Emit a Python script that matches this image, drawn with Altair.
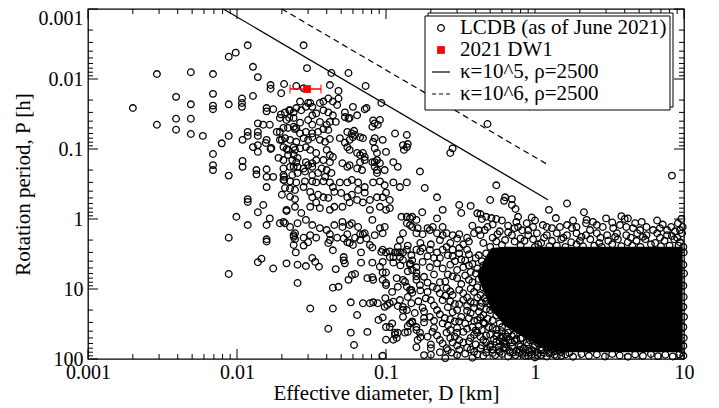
import altair as alt
import pandas as pd

# ---------------- data (D in km, P in hours) ----------------
lcdb_sparse = [
    (0.002, 0.026), (0.0029, 0.0085), (0.0029, 0.045), (0.0039, 0.018), (0.0039, 0.037), (0.0039, 0.053),
    (0.0049, 0.008), (0.0049, 0.023), (0.0049, 0.037), (0.0049, 0.061), (0.0059, 0.065),
    (0.0069, 0.0085), (0.0069, 0.0163), (0.0069, 0.024), (0.0069, 0.027), (0.0069, 0.118), (0.0069, 0.17), (0.0069, 0.2),
    (0.0079, 0.083), (0.0088, 0.0048), (0.0088, 0.023), (0.0088, 0.065), (0.0088, 0.24), (0.0088, 1.85), (0.0088, 6.1),
    (0.0098, 0.0042), (0.0099, 0.93),
    (0.0118, 0.0033), (0.0128, 0.0067), (0.0138, 0.0094),
    (0.0108, 0.019), (0.0108, 0.022), (0.0108, 0.025), (0.0128, 0.0175),
    (0.0158, 0.026), (0.0158, 0.029), (0.0175, 0.027), (0.0168, 0.0122), (0.0168, 0.0138),
    (0.0207, 0.0118), (0.0198, 0.016), (0.025, 0.0126), (0.028, 0.0135),
    (0.028, 0.0033), (0.0295, 0.007), (0.043, 0.0082), (0.056, 0.0082), (0.042, 0.0122),
    (0.048, 0.0148), (0.048, 0.019), (0.073, 0.0126), (0.093, 0.022), (0.48, 0.044), (8.3, 0.24),
]

lcdb_left_cloud = [
    (0.0118, 0.057), (0.0118, 0.065), (0.0138, 0.043), (0.0138, 0.057), (0.0138, 0.065), (0.0138, 0.088),
    (0.0138, 0.11), (0.0128, 0.094), (0.015, 0.045), (0.0166, 0.045), (0.0194, 0.057), (0.0194, 0.074),
    (0.0158, 0.074), (0.0168, 0.1), (0.019, 0.134), (0.0205, 0.094), (0.0215, 0.1), (0.022, 0.122),
    (0.024, 0.122), (0.024, 0.18), (0.0135, 0.2), (0.0135, 0.23), (0.0158, 0.195), (0.0158, 0.25),
    (0.0175, 0.25), (0.0207, 0.277), (0.0227, 0.37), (0.02, 0.45), (0.0227, 0.48), (0.0245, 0.52),
    (0.0158, 0.35), (0.0118, 0.52), (0.0118, 0.57), (0.015, 0.63), (0.0138, 0.8), (0.0118, 1.22),
    (0.0158, 1.22), (0.0166, 0.98), (0.0194, 1.15), (0.021, 1.15), (0.0215, 0.77), (0.0227, 1.3),
    (0.0245, 1.6), (0.0158, 1.95), (0.024, 1.8), (0.0109, 0.074), (0.0109, 0.148), (0.0109, 0.18),
    (0.0197, 0.032), (0.0224, 0.036), (0.0224, 0.028), (0.024, 0.048), (0.025, 0.05), (0.0185, 0.057),
    (0.0227, 0.074), (0.024, 0.094), (0.025, 0.155), (0.025, 0.3), (0.0207, 0.25), (0.0156, 0.082), (0.017, 0.097),
]

lcdb_mid_cloud_a = [
    (0.0265, 0.021), (0.030, 0.022), (0.032, 0.025), (0.036, 0.022), (0.038, 0.021), (0.041, 0.019),
    (0.044, 0.021), (0.047, 0.0235), (0.053, 0.030), (0.060, 0.025), (0.072, 0.027),
    (0.021, 0.030), (0.0227, 0.028), (0.024, 0.030), (0.025, 0.026), (0.027, 0.028), (0.032, 0.033),
    (0.034, 0.031), (0.038, 0.028), (0.041, 0.030), (0.044, 0.033), (0.031, 0.022), (0.029, 0.025),
    (0.053, 0.035), (0.057, 0.036), (0.064, 0.033), (0.0194, 0.036), (0.0215, 0.0385), (0.024, 0.036),
    (0.0265, 0.042), (0.030, 0.0385), (0.032, 0.045), (0.036, 0.041), (0.040, 0.045), (0.042, 0.041),
    (0.0205, 0.05), (0.022, 0.05), (0.0245, 0.052), (0.0265, 0.06), (0.029, 0.057), (0.032, 0.06),
    (0.035, 0.057), (0.038, 0.052), (0.041, 0.0535), (0.055, 0.057), (0.059, 0.06), (0.062, 0.063),
    (0.07, 0.07), (0.081, 0.048), (0.084, 0.043), (0.088, 0.045), (0.091, 0.0385), (0.082, 0.039),
    (0.074, 0.026), (0.046, 0.041), (0.056, 0.037), (0.115, 0.06), (0.138, 0.063),
]

lcdb_mid_cloud_b = [
    (0.02, 0.074), (0.021, 0.07), (0.025, 0.079), (0.028, 0.07), (0.030, 0.074), (0.032, 0.068),
    (0.036, 0.074), (0.039, 0.079), (0.042, 0.072), (0.049, 0.07), (0.057, 0.074), (0.060, 0.068),
    (0.067, 0.068), (0.084, 0.07), (0.082, 0.079), (0.095, 0.074),
    (0.022, 0.103), (0.0245, 0.103), (0.0265, 0.098), (0.029, 0.094), (0.031, 0.103), (0.034, 0.114),
    (0.040, 0.103), (0.042, 0.122), (0.044, 0.13), (0.055, 0.094), (0.057, 0.103), (0.064, 0.114),
    (0.067, 0.122), (0.07, 0.114), (0.072, 0.13), (0.084, 0.098), (0.087, 0.114), (0.084, 0.154),
    (0.10, 0.11), (0.13, 0.088), (0.138, 0.094), (0.132, 0.103), (0.14, 0.085), (0.27, 0.114),
    (0.28, 0.098), (0.053, 0.081), (0.061, 0.055),
    (0.0205, 0.144), (0.0235, 0.144), (0.0255, 0.134), (0.029, 0.154), (0.032, 0.16), (0.034, 0.144),
    (0.038, 0.144), (0.042, 0.154), (0.0205, 0.19), (0.0227, 0.18), (0.0255, 0.18), (0.028, 0.19),
    (0.030, 0.17), (0.032, 0.18), (0.037, 0.19), (0.040, 0.2), (0.051, 0.16), (0.055, 0.18),
    (0.057, 0.17), (0.064, 0.19), (0.069, 0.2), (0.067, 0.154), (0.072, 0.144), (0.081, 0.154),
    (0.087, 0.144), (0.091, 0.16), (0.084, 0.18), (0.087, 0.2), (0.087, 0.22), (0.098, 0.2),
    (0.112, 0.154), (0.12, 0.18), (0.169, 0.21),
    (0.0205, 0.235), (0.0235, 0.235), (0.0255, 0.22), (0.0286, 0.21), (0.032, 0.235), (0.035, 0.22),
    (0.039, 0.25), (0.043, 0.22),
]

lcdb_mid_cloud_c = [
    (0.0205, 0.277), (0.0227, 0.29), (0.0286, 0.29), (0.032, 0.29), (0.034, 0.30), (0.038, 0.29),
    (0.042, 0.30), (0.044, 0.35), (0.049, 0.30), (0.055, 0.30), (0.059, 0.277), (0.065, 0.30),
    (0.072, 0.35), (0.082, 0.30), (0.091, 0.29), (0.098, 0.33), (0.112, 0.30), (0.124, 0.35), (0.138, 0.30),
    (0.021, 0.36), (0.0245, 0.385), (0.028, 0.35), (0.031, 0.41), (0.032, 0.49), (0.035, 0.45),
    (0.038, 0.49), (0.041, 0.5), (0.045, 0.41), (0.05, 0.425), (0.055, 0.49), (0.059, 0.45),
    (0.065, 0.385), (0.072, 0.42), (0.078, 0.535), (0.087, 0.49), (0.095, 0.49), (0.10, 0.42), (0.106, 0.535),
    (0.182, 0.36), (0.22, 0.49), (0.24, 0.74), (0.31, 0.63), (0.37, 0.65), (0.32, 0.82), (0.41, 0.83),
    (0.44, 1.0), (0.47, 0.93), (0.51, 0.97), (0.50, 0.535), (0.55, 0.33),
    (0.63, 0.49), (0.62, 0.55), (0.70, 0.52), (0.70, 0.63), (0.74, 0.72), (1.24, 0.74), (1.64, 0.6),
    (2.13, 0.8), (3.8, 0.91), (4.0, 1.0), (0.43, 0.85), (0.55, 1.0), (0.77, 0.93), (1.38, 0.97), (2.22, 1.03),
    (0.175, 0.8), (0.138, 0.93), (0.145, 0.97), (0.15, 0.93), (0.16, 1.03),
    (0.0215, 0.74), (0.0245, 0.67), (0.027, 0.82), (0.031, 0.67), (0.034, 0.58), (0.036, 0.70),
    (0.042, 0.74), (0.045, 0.67), (0.051, 0.67), (0.057, 0.58), (0.064, 0.535), (0.07, 0.58),
    (0.078, 0.74), (0.091, 0.67), (0.10, 0.74), (0.106, 0.70),
    (0.0205, 1.1), (0.0255, 1.15), (0.029, 1.03), (0.032, 1.22), (0.036, 1.35), (0.040, 1.44),
    (0.045, 1.22), (0.051, 1.1), (0.057, 1.22), (0.065, 1.3), (0.072, 1.6), (0.081, 1.03),
    (0.091, 1.35), (0.098, 1.3),
    (0.024, 1.7), (0.028, 1.85), (0.031, 1.7), (0.034, 1.85), (0.042, 1.65), (0.047, 1.85),
    (0.055, 1.65), (0.062, 1.85), (0.067, 1.65), (0.074, 1.9), (0.084, 1.7),
    (0.16, 1.6), (0.176, 1.65), (0.19, 1.35), (0.206, 1.3), (0.22, 1.6), (0.24, 1.7), (0.255, 1.6),
    (0.28, 1.7), (0.31, 1.65), (0.35, 1.85), (0.39, 1.6), (0.43, 1.7), (0.46, 1.44), (0.52, 1.85), (0.56, 1.65),
    (4.2, 0.98), (4.7, 1.15), (8.2, 1.3), (9.4, 1.44), (0.22, 0.98), (0.77, 1.3), (0.73, 1.35),
    (0.127, 0.93), (0.138, 1.15), (0.15, 1.3), (0.163, 1.35), (0.197, 1.44), (0.24, 1.3), (0.30, 1.9), (0.23, 2.0),
]

lcdb_lower = [
    (0.0158, 2.1), (0.0138, 4.15), (0.0146, 3.7), (0.0175, 5.1), (0.0215, 4.3), (0.024, 2.35),
    (0.0245, 1.95), (0.0248, 3.0), (0.028, 2.4), (0.0255, 4.5), (0.0255, 8.2), (0.030, 2.15),
    (0.029, 4.7), (0.032, 3.6), (0.0335, 4.1), (0.031, 19), (0.0355, 4.8),
    (0.041, 2.2), (0.042, 2.0), (0.044, 2.8), (0.046, 5.2), (0.044, 9.6), (0.048, 9.3), (0.044, 19), (0.041, 37),
    (0.051, 1.3), (0.052, 1.9), (0.055, 2.15), (0.057, 2.2), (0.060, 2.35), (0.052, 3.5), (0.052, 3.9),
    (0.053, 4.3), (0.058, 15.5), (0.056, 7.4), (0.059, 6.3), (0.062, 6.1), (0.064, 23.5), (0.058, 42),
    (0.061, 63), (0.059, 1.15), (0.067, 2.0), (0.07, 1.65), (0.078, 2.35), (0.081, 2.55), (0.068, 3.0),
    (0.068, 4.2), (0.081, 4.2), (0.07, 16), (0.078, 16), (0.082, 15.5), (0.075, 7.0), (0.081, 6.8),
    (0.082, 7.4), (0.075, 41), (0.088, 16), (0.089, 27.7), (0.095, 25.5),
    (0.091, 4.8), (0.095, 5.8), (0.095, 7.4), (0.093, 2.95), (0.095, 1.6),
    (0.10, 5.8), (0.10, 8.8), (0.099, 13.5), (0.102, 17), (0.106, 16), (0.106, 35), (0.11, 31),
    (0.115, 45), (0.12, 42), (0.118, 50), (0.10, 53), (0.112, 53), (0.095, 90),
    (0.10, 3.0), (0.106, 3.5), (0.112, 3.5), (0.12, 3.0), (0.124, 3.0), (0.13, 3.0), (0.124, 2.0),
    (0.13, 1.6), (0.145, 1.22), (0.145, 4.3), (0.15, 5.35), (0.16, 5.8), (0.16, 7.4), (0.13, 7.4),
    (0.138, 9.3), (0.145, 10.3), (0.15, 11.3), (0.124, 14.4), (0.13, 18), (0.138, 20), (0.145, 31),
    (0.15, 30), (0.16, 38.5), (0.163, 53.5), (0.14, 41), (0.134, 42),
]

lcdb_dense_edge = [
    (0.095, 2.75), (0.106, 2.9), (0.115, 3.0), (0.124, 3.5), (0.138, 2.75), (0.148, 3.3), (0.16, 2.75),
    (0.176, 2.6), (0.197, 2.75), (0.22, 3.0), (0.24, 2.75), (0.255, 2.5), (0.28, 2.75), (0.31, 2.6), (0.35, 2.75),
    (0.095, 4.1), (0.112, 4.2), (0.13, 3.85), (0.145, 4.5), (0.16, 4.9), (0.176, 4.1), (0.197, 4.9),
    (0.22, 4.3), (0.24, 5.1), (0.27, 4.5), (0.30, 5.35), (0.33, 4.9), (0.37, 5.7), (0.41, 5.1),
    (0.10, 8.2), (0.12, 9.3), (0.134, 7.9), (0.148, 10.3), (0.169, 8.8), (0.19, 11), (0.206, 9.3),
    (0.23, 11.5), (0.255, 9.7), (0.28, 12.2), (0.31, 10.3), (0.35, 13.2), (0.39, 11), (0.43, 12.2),
    (0.098, 18), (0.112, 15.2), (0.13, 20), (0.148, 16), (0.156, 22), (0.176, 18.5), (0.197, 25),
    (0.22, 20), (0.248, 26), (0.28, 21.5), (0.32, 25), (0.37, 22), (0.41, 27.7), (0.45, 23.5), (0.50, 20),
    (0.10, 35), (0.115, 42), (0.16, 35), (0.169, 42), (0.19, 48), (0.205, 41), (0.23, 53.5), (0.255, 42),
    (0.29, 48), (0.33, 41), (0.37, 50), (0.41, 42), (0.45, 53.5), (0.50, 45), (0.55, 57), (0.61, 48), (0.68, 53.5),
    (0.255, 70), (0.275, 81), (0.31, 74), (0.35, 69), (0.39, 79), (0.43, 70), (0.47, 81), (0.52, 74),
    (0.58, 79), (0.64, 70), (0.71, 81), (0.79, 74), (0.87, 81), (0.95, 74), (1.04, 88), (0.25, 97), (0.38, 96),
    (0.28, 3.4), (0.32, 3.8), (0.36, 3.2), (0.40, 3.6), (0.44, 4.0), (0.26, 6.2), (0.30, 7.0), (0.34, 6.4),
    (0.38, 8.0), (0.42, 7.2), (0.45, 9.5), (0.27, 15), (0.31, 16.5), (0.35, 17.5), (0.39, 15.8), (0.43, 18),
    (0.47, 15), (0.26, 33), (0.30, 36), (0.34, 31), (0.38, 35), (0.42, 34), (0.46, 31), (0.52, 36),
    (0.56, 44), (0.62, 60), (0.7, 66), (0.78, 63), (0.24, 60), (0.28, 58), (0.33, 58), (0.4, 62),
    (0.5, 63), (0.57, 67), (0.2, 62), (0.18, 30), (0.2, 14.5), (0.18, 6.7), (0.21, 3.6), (0.23, 8.0),
    (0.25, 12.5), (0.29, 29), (0.2, 70),
]

lcdb_dense_more = [
    (0.42, 3.3), (0.47, 3.1), (0.38, 4.4), (0.45, 4.6), (0.49, 4.2), (0.34, 3.9), (0.29, 4.0), (0.26, 3.3),
    (0.19, 3.4), (0.15, 3.9), (0.125, 4.6), (0.17, 2.9), (0.12, 2.5), (0.23, 3.6), (0.31, 3.1), (0.36, 4.6),
    (0.44, 5.6), (0.47, 6.8), (0.40, 6.0), (0.36, 7.4), (0.32, 8.5), (0.28, 6.6), (0.25, 7.8), (0.21, 6.2),
    (0.19, 8.1), (0.16, 6.6), (0.14, 5.6), (0.46, 8.3), (0.41, 9.4), (0.37, 9.9), (0.33, 11.5), (0.27, 10.8),
    (0.22, 9.9), (0.17, 10.5), (0.118, 7.0), (0.11, 11), (0.48, 10.6),
    (0.46, 13.5), (0.5, 16.5), (0.44, 15.8), (0.41, 13.2), (0.37, 15.2), (0.33, 14.3), (0.29, 16.4),
    (0.26, 18.2), (0.24, 14.5), (0.21, 17.2), (0.185, 13.6), (0.165, 15), (0.14, 13), (0.12, 17.5),
    (0.53, 19), (0.47, 19.5), (0.42, 21), (0.39, 18.7), (0.35, 20.5), (0.3, 20), (0.23, 23), (0.18, 21),
    (0.55, 24), (0.52, 28), (0.48, 26.5), (0.45, 30), (0.43, 25.6), (0.39, 28.5), (0.36, 26.2), (0.31, 29),
    (0.27, 27), (0.24, 31), (0.21, 28.5), (0.18, 26), (0.15, 29), (0.13, 25), (0.58, 31), (0.6, 35),
    (0.55, 38), (0.49, 35), (0.44, 38.5), (0.4, 39), (0.35, 37), (0.3, 42), (0.27, 38.5), (0.21, 36), (0.14, 34),
    (0.66, 42), (0.7, 47), (0.63, 44), (0.59, 50), (0.55, 47), (0.53, 52), (0.47, 46), (0.43, 48),
    (0.39, 45), (0.36, 56), (0.31, 54), (0.27, 50), (0.22, 46), (0.17, 49), (0.73, 55), (0.8, 51),
    (0.62, 55), (0.47, 58),
    (0.9, 62), (0.98, 68), (1.05, 60), (1.12, 72), (1.2, 66), (1.3, 74), (1.4, 70), (0.84, 70), (0.75, 77),
    (0.67, 75), (0.6, 85), (0.54, 88), (0.45, 90), (0.41, 86), (0.34, 84), (0.3, 88), (0.23, 80), (0.2, 87),
    (0.66, 92), (0.74, 88), (0.82, 85), (0.92, 80), (1.15, 82), (1.35, 87), (1.5, 80), (0.5, 67), (0.44, 64),
    (0.37, 73), (0.3, 64), (0.26, 75), (0.16, 68), (0.18, 88),
    (0.52, 1.2), (0.6, 1.05), (0.66, 1.55), (0.75, 1.1), (0.8, 1.9), (0.9, 1.45), (0.55, 2.1), (0.5, 2.5),
    (0.45, 2.2), (0.48, 1.3), (0.42, 1.45), (0.38, 1.25), (0.36, 2.1), (0.33, 2.3), (0.27, 2.2), (0.2, 2.3),
    (0.17, 2.2), (0.14, 2.4),
    (0.6, 40), (0.65, 48), (0.72, 45), (0.75, 52), (0.82, 50), (0.88, 58), (0.92, 54), (1.0, 64),
    (1.08, 58), (1.2, 72), (1.28, 68), (1.45, 75), (0.7, 58), (0.8, 66), (0.9, 72), (1.0, 78), (1.1, 76),
    (1.25, 80), (0.62, 68), (0.68, 80), (0.78, 82), (0.86, 90), (0.95, 86), (1.05, 82), (1.2, 92),
    (1.35, 78), (1.5, 90), (1.7, 82), (0.57, 75), (0.52, 82), (0.48, 72), (0.64, 62), (0.58, 56),
]

lcdb_fringe = [
    (0.97, 1.3), (1.13, 1.22), (1.2, 1.3), (1.3, 1.35), (1.47, 1.3), (1.64, 1.22), (1.77, 1.35), (1.9, 1.3),
    (2.2, 1.15), (2.34, 1.44), (2.6, 1.22), (2.85, 1.3), (3.35, 1.35), (3.72, 1.22), (4.1, 1.3), (4.55, 1.35),
    (5.07, 1.44), (5.6, 1.3), (6.2, 1.44), (6.9, 1.35), (7.7, 1.44),
    (0.9, 1.7), (1.03, 1.6), (1.2, 1.7), (1.4, 1.6), (1.64, 1.7), (1.9, 1.6), (2.2, 1.7), (2.6, 1.6),
    (3.05, 1.7), (3.55, 1.6), (4.1, 1.7), (4.85, 1.6), (5.6, 1.7), (6.6, 1.6), (7.7, 1.7), (9.0, 1.85), (9.4, 2.15),
    (0.63, 2.0), (0.73, 2.1), (0.85, 2.05), (0.97, 1.95), (1.1, 2.2), (1.3, 2.05), (1.5, 1.95), (1.75, 2.15),
    (2.0, 2.05), (2.35, 1.95), (2.7, 2.2), (3.1, 2.05), (3.6, 1.95), (4.2, 2.15), (4.8, 2.05), (5.5, 1.95),
    (6.4, 2.2), (7.4, 2.05), (8.6, 1.95),
    (0.6, 2.35), (0.8, 2.4), (1.05, 2.3), (1.4, 2.4), (1.9, 2.3), (2.5, 2.4), (3.3, 2.3), (4.5, 2.4),
    (6.0, 2.3), (8.0, 2.4), (9.9, 2.5), (0.58, 1.5), (0.66, 1.25), (0.7, 1.7), (0.82, 1.45), (0.88, 1.15),
    (1.0, 2.5), (1.25, 2.45), (1.6, 2.5), (2.1, 2.45), (2.8, 2.5), (3.8, 2.45), (5.1, 2.5), (7.0, 2.45),
    (9.2, 2.4), (1.15, 1.85), (1.55, 1.85), (2.05, 1.8), (2.75, 1.85), (3.45, 1.8), (4.4, 1.85), (5.3, 1.8),
    (6.9, 1.85), (8.3, 1.75), (9.7, 1.6), (9.8, 1.3), (9.1, 1.15), (8.7, 1.5), (1.0, 1.05), (1.8, 1.05),
    (2.45, 1.1), (3.0, 0.98), (5.2, 1.1), (6.6, 1.05), (7.2, 1.2), (9.6, 1.0), (0.95, 0.95), (3.3, 1.12),
    (1.1, 88), (1.25, 84), (1.4, 91), (1.6, 86), (1.8, 93), (2.05, 85), (2.3, 90), (2.6, 86), (2.95, 92),
    (3.3, 85), (3.7, 89), (4.2, 93), (4.7, 86), (5.3, 90), (6.0, 85), (6.7, 91), (7.5, 87), (8.4, 92),
    (9.3, 86), (9.9, 90), (0.9, 90), (1.0, 95),
    (9.95, 3.0), (9.9, 4.5), (10.0, 6.0), (9.9, 9.0), (9.95, 13), (9.9, 18), (10.0, 25), (9.9, 35),
    (9.95, 50), (9.9, 65),
]

# saturated (fully overplotted) core of the LCDB cloud
core_D = [0.41, 0.46, 0.51, 0.63, 0.85, 1.16, 1.5, 9.8]
core_P_top = [6.5, 3.6, 2.6, 2.5, 2.5, 2.5, 2.5, 2.5]
core_P_bottom = [6.5, 12, 20, 34, 50, 70, 80, 80]

# spin-barrier curves
k5_D = [0.0081, 1.22]
k5_P = [0.001, 0.53]
k6_D = [0.020, 1.22]
k6_P = [0.001, 0.168]

# 2021 DW1
dw1_D = [0.0295]
dw1_P = [0.0139]
dw1_D_lo = [0.0227]
dw1_D_hi = [0.0366]

x_major = [0.001, 0.01, 0.1, 1, 10]
y_major = [0.001, 0.01, 0.1, 1, 10, 100]
minor_mult = [2, 3, 4, 5, 6, 7, 8, 9]
x_minor = [m * d for d in x_major[:-1] for m in minor_mult]
y_minor = [m * d for d in y_major[:-1] for m in minor_mult]

legend_labels = ["LCDB (as of June 2021)", "2021 DW1", "κ=10^5, ρ=2500", "κ=10^6, ρ=2500"]

# ---------------- chart ----------------
W, H = 596, 350
FONT = "Liberation Serif"
RED = "#ff0000"
CIRCLE_SIZE = 44

all_pts = (lcdb_sparse + lcdb_left_cloud + lcdb_mid_cloud_a + lcdb_mid_cloud_b +
           lcdb_mid_cloud_c + lcdb_lower + lcdb_dense_edge + lcdb_dense_more + lcdb_fringe)
pts_df = pd.DataFrame(all_pts, columns=["D", "P"])
core_df = pd.DataFrame({"D": core_D, "P": core_P_top, "P2": core_P_bottom})

xscale = alt.Scale(type="log", domain=[0.001, 10])
yscale = alt.Scale(type="log", domain=[0.001, 100], reverse=True)
xaxis = alt.Axis(values=x_major, format="~g", title="Effective diameter, D [km]", grid=False,
                 ticks=False, domain=False, labelFont=FONT, labelFontSize=20, titleFont=FONT,
                 titleFontSize=21, titleFontWeight="normal", labelPadding=3, titlePadding=0,
                 labelColor="black", titleColor="black", labelFlush=False, labelOverlap=False)
yaxis = alt.Axis(values=y_major, format="~g", title="Rotation period, P [h]", grid=False,
                 ticks=False, domain=False, labelFont=FONT, labelFontSize=20, titleFont=FONT,
                 titleFontSize=21, titleFontWeight="normal", labelPadding=5, titlePadding=5,
                 labelOffset=alt.condition("datum.value < 0.002", alt.value(9), alt.value(0)),
                 labelColor="black", titleColor="black", labelFlush=False, labelOverlap=False)


def X(field="D"):
    return alt.X(f"{field}:Q", scale=xscale, axis=xaxis)


def Y(field="P"):
    return alt.Y(f"{field}:Q", scale=yscale, axis=yaxis)


core = alt.Chart(core_df).mark_area(color="black", interpolate="linear", opacity=1).encode(
    x=X(), y=Y(), y2=alt.Y2("P2:Q"))

points = alt.Chart(pts_df).mark_point(shape="circle", filled=False, color="black", size=CIRCLE_SIZE,
                                      strokeWidth=1.3, opacity=1).encode(x=X(), y=Y())

k5 = alt.Chart(pd.DataFrame({"D": k5_D, "P": k5_P})).mark_line(color="black", strokeWidth=1.2).encode(
    x=X(), y=Y())
k6 = alt.Chart(pd.DataFrame({"D": k6_D, "P": k6_P})).mark_line(
    color="black", strokeWidth=1.2, strokeDash=[6, 4]).encode(x=X(), y=Y())

dw_df = pd.DataFrame({"D": dw1_D, "P": dw1_P, "Dlo": dw1_D_lo, "Dhi": dw1_D_hi})
dw_bar = alt.Chart(dw_df).mark_rule(color=RED, strokeWidth=1.5).encode(
    x=X("Dlo"), x2=alt.X2("Dhi:Q"), y=Y())
dw_cap_lo = alt.Chart(dw_df).mark_tick(color=RED, orient="vertical", size=9, thickness=1.5).encode(
    x=X("Dlo"), y=Y())
dw_cap_hi = alt.Chart(dw_df).mark_tick(color=RED, orient="vertical", size=9, thickness=1.5).encode(
    x=X("Dhi"), y=Y())
dw_pt = alt.Chart(dw_df).mark_point(shape="square", filled=True, color=RED, size=60, opacity=1).encode(
    x=X(), y=Y())

# inward ticks on all four sides
xmaj = pd.DataFrame({"D": x_major})
xmin = pd.DataFrame({"D": x_minor})
ymaj = pd.DataFrame({"P": y_major})
ymin = pd.DataFrame({"P": y_minor})
tick_layers = []
for df, ln in [(xmaj, 10), (xmin, 5)]:
    tick_layers.append(alt.Chart(df).mark_rule(color="black", strokeWidth=1).encode(
        x=X(), y=alt.value(H), y2=alt.value(H - ln)))
    tick_layers.append(alt.Chart(df).mark_rule(color="black", strokeWidth=1).encode(
        x=X(), y=alt.value(0), y2=alt.value(ln)))
for df, ln in [(ymaj, 10), (ymin, 5)]:
    tick_layers.append(alt.Chart(df).mark_rule(color="black", strokeWidth=1).encode(
        y=Y(), x=alt.value(0), x2=alt.value(ln)))
    tick_layers.append(alt.Chart(df).mark_rule(color="black", strokeWidth=1).encode(
        y=Y(), x=alt.value(W), x2=alt.value(W - ln)))

# legend (drawn by hand)
one = pd.DataFrame({"a": [0]})
leg_shadow = alt.Chart(one).mark_rect(fill="white", stroke="black", strokeWidth=1).encode(
    x=alt.value(340), x2=alt.value(585), y=alt.value(4), y2=alt.value(98))
leg_box = alt.Chart(one).mark_rect(fill="white", stroke="black", strokeWidth=1).encode(
    x=alt.value(337), x2=alt.value(582), y=alt.value(7), y2=alt.value(101))
rows = [19, 41, 63, 85]
sym_x = 353
txt_x = 372
leg_layers = [leg_shadow, leg_box]
leg_layers.append(alt.Chart(one).mark_point(shape="circle", filled=False, color="black", size=CIRCLE_SIZE,
                                            strokeWidth=1.3, opacity=1).encode(
    x=alt.value(sym_x), y=alt.value(rows[0])))
leg_layers.append(alt.Chart(one).mark_point(shape="square", filled=True, color=RED, size=60,
                                            opacity=1).encode(
    x=alt.value(sym_x), y=alt.value(rows[1])))
leg_layers.append(alt.Chart(one).mark_rule(color="black", strokeWidth=1.2).encode(
    x=alt.value(344), x2=alt.value(362), y=alt.value(rows[2])))
leg_layers.append(alt.Chart(one).mark_rule(color="black", strokeWidth=1.2, strokeDash=[4, 3]).encode(
    x=alt.value(344), x2=alt.value(362), y=alt.value(rows[3])))
for lab, ry in zip(legend_labels, rows):
    leg_layers.append(alt.Chart(one).mark_text(font=FONT, fontSize=21, align="left", baseline="middle",
                                               color="black").encode(
        x=alt.value(txt_x), y=alt.value(ry), text=alt.value(lab)))

chart = alt.layer(
    core, points, k5, k6, dw_bar, dw_cap_lo, dw_cap_hi, dw_pt, *tick_layers, *leg_layers
).properties(
    width=W, height=H,
    autosize=alt.AutoSizeParams(type="none"),
    padding={"left": 80, "top": 1, "right": 20, "bottom": 49},
    background="white",
).configure_view(stroke="black", strokeWidth=1.3)

chart.save("out.html", embed_options={"renderer": "svg", "actions": False})
